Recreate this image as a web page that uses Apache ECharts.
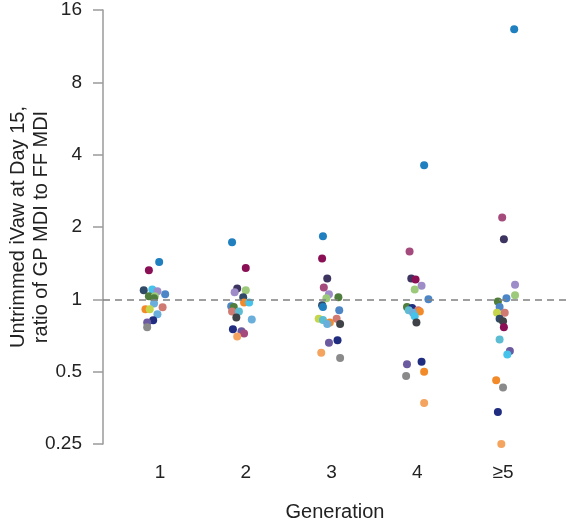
<!DOCTYPE html>
<html>
<head>
<meta charset="utf-8">
<script src="https://cdn.jsdelivr.net/npm/echarts@6/dist/echarts.min.js"></script>
<style>html,body{margin:0;padding:0;background:#fff}#c{width:571px;height:523px}</style>
</head>
<body>
<div id="c"></div>
<script>
var categories = ['1', '2', '3', '4', '\u22655'];
var tickLabels = [0.25, 0.5, 1, 2, 4, 8, 16];

// ratio values per generation
var gen1 = [1.43, 1.32, 1.09, 1.10, 1.08, 1.05, 1.03, 1.03, 1.01, 0.96, 0.91, 0.91, 0.926, 0.866, 0.818, 0.80, 0.765];
var gen2 = [1.73, 1.35, 1.11, 1.07, 1.09, 1.02, 0.97, 0.97, 0.935, 0.93, 0.89, 0.89, 0.84, 0.825, 0.75, 0.736, 0.72, 0.70];
var gen3 = [1.83, 1.48, 1.22, 1.12, 1.05, 1.02, 1.01, 0.944, 0.93, 0.90, 0.83, 0.82, 0.80, 0.83, 0.79, 0.79, 0.66, 0.675, 0.60, 0.57];
var gen4 = [3.61, 1.58, 1.22, 1.21, 1.14, 1.10, 1.00, 0.93, 0.92, 0.90, 0.90, 0.89, 0.88, 0.85, 0.80, 0.537, 0.55, 0.48, 0.50, 0.37];
var gen5 = [13.3, 2.19, 1.78, 1.15, 1.04, 1.01, 0.98, 0.93, 0.88, 0.88, 0.83, 0.81, 0.765, 0.68, 0.61, 0.59, 0.46, 0.43, 0.34, 0.25];

// horizontal jitter (category units)
var jit1 = [-0.01, -0.13, -0.19, -0.09, -0.03, 0.06, -0.13, -0.06, -0.07, -0.07, -0.17, -0.12, 0.03, -0.03, -0.08, -0.15, -0.15];
var jit2 = [-0.16, 0.00, -0.10, -0.13, 0.00, -0.03, -0.02, 0.04, -0.17, -0.14, -0.16, -0.08, -0.11, 0.07, -0.15, -0.05, -0.02, -0.10];
var jit3 = [-0.10, -0.11, -0.05, -0.09, -0.03, 0.08, -0.06, -0.11, -0.10, 0.09, -0.15, -0.10, -0.02, 0.06, -0.05, 0.10, -0.03, 0.07, -0.12, 0.10];
var jit4 = [0.08, -0.09, -0.07, -0.02, 0.05, -0.03, 0.13, -0.12, -0.06, -0.10, 0.01, 0.03, -0.05, -0.03, -0.01, -0.12, 0.05, -0.13, 0.08, 0.08];
var jit5 = [0.13, -0.01, 0.01, 0.14, 0.14, 0.04, -0.06, -0.04, -0.07, 0.02, -0.04, 0.00, 0.01, -0.04, 0.08, 0.05, -0.08, 0.00, -0.06, -0.02];

var palette = {
  teal: '#1f7fbf', maroon: '#8a0f55', slate: '#2f4a66', cyan: '#45c3ea', lpurple: '#9d8cc8',
  steel: '#4d86c6', dgreen: '#4f7d3b', lgreen: '#9cc97a', orange: '#f28a2a', lorange: '#f5a45f',
  salmon: '#cf7a72', lblue: '#6aaedc', navy: '#1f2c80', purple: '#6b5a9f', gray: '#8a8a8a',
  dgray: '#3f4246', rose: '#a54a7c', ygreen: '#c6d64a', lteal: '#5bbcd2', dpurple: '#3d3560'
};
var col1 = ['teal','maroon','slate','cyan','lpurple','steel','dgreen','lgreen','dgreen','lblue','orange','ygreen','salmon','lblue','navy','purple','gray'];
var col2 = ['teal','maroon','dpurple','lpurple','lgreen','slate','orange','cyan','steel','dgreen','salmon','lteal','dgray','lblue','navy','purple','rose','lorange'];
var col3 = ['teal','maroon','dpurple','rose','lpurple','dgreen','lgreen','slate','teal','steel','ygreen','lteal','orange','salmon','lblue','dgray','purple','navy','lorange','gray'];
var col4 = ['teal','rose','dpurple','maroon','lpurple','lgreen','steel','dgreen','navy','lteal','salmon','orange','lblue','cyan','dgray','purple','navy','gray','orange','lorange'];
var col5 = ['teal','rose','dpurple','lpurple','lgreen','steel','dgreen','steel','ygreen','salmon','slate','dgray','maroon','lteal','purple','cyan','orange','gray','navy','lorange'];

var gens = [gen1, gen2, gen3, gen4, gen5];
var jits = [jit1, jit2, jit3, jit4, jit5];
var cols = [col1, col2, col3, col4, col5];

var data = [];
gens.forEach(function (g, gi) {
  g.forEach(function (v, i) {
    data.push({ value: [gi + 1 + jits[gi][i], v], itemStyle: { color: palette[cols[gi][i]] } });
  });
});

var font = 'Helvetica, "Liberation Sans", Arial, sans-serif';
var chart = echarts.init(document.getElementById('c'), null, { renderer: 'canvas' });
chart.setOption({
  animation: false,
  backgroundColor: '#fff',
  grid: { left: 103, right: 4, top: 10, bottom: 79, containLabel: false, outerBoundsMode: 'none' },
  xAxis: {
    type: 'value', min: 0.335, max: 5.746,
    name: 'Generation', nameLocation: 'middle', nameGap: 58, nameMoveOverlap: false,
    nameTextStyle: { fontSize: 20, color: '#222', fontFamily: font },
    axisLine: { show: false }, axisTick: { show: false }, splitLine: { show: false },
    axisLabel: {
      customValues: [1, 2, 3, 4, 5], margin: 19, fontSize: 19, color: '#222', fontFamily: font,
      formatter: function (v) { return categories[Math.round(v) - 1] || ''; }
    }
  },
  yAxis: {
    type: 'log', logBase: 2, min: 0.25, max: 16,
    name: 'Untrimmed iVaw at Day 15,\nratio of GP MDI to FF MDI',
    nameLocation: 'middle', nameGap: 50, nameRotate: 90, nameMoveOverlap: false,
    nameTextStyle: { fontSize: 20, color: '#222', fontFamily: font, lineHeight: 23 },
    axisLine: { show: true, lineStyle: { color: '#9a9a9a', width: 1.5 } },
    axisTick: { show: true, length: 10, lineStyle: { color: '#9a9a9a', width: 1.5 } },
    splitLine: { show: false },
    axisLabel: {
      margin: 21, fontSize: 19, color: '#222', fontFamily: font,
      formatter: function (v) { return String(tickLabels.find(function (t) { return Math.abs(t - v) < 1e-6; }) || v); }
    }
  },
  series: [{
    type: 'scatter', symbolSize: 8, data: data,
    itemStyle: { opacity: 1 },
    markLine: {
      silent: true, symbol: 'none', label: { show: false },
      lineStyle: { type: [7, 5], color: '#808080', width: 1.5 },
      data: [{ yAxis: 1 }]
    },
    z: 3
  }]
});
</script>
</body>
</html>
